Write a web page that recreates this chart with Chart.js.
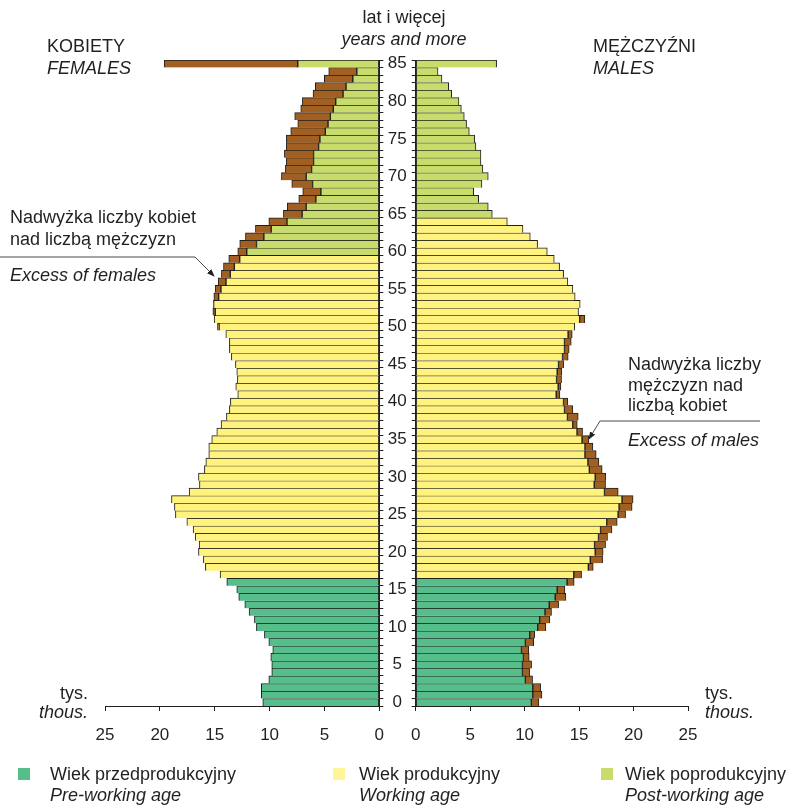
<!DOCTYPE html>
<html>
<head>
<meta charset="utf-8">
<script src="https://cdn.jsdelivr.net/npm/chart.js@4.4.1/dist/chart.umd.min.js"></script>
<style>
  body { margin: 0; background: #fff; }
  #wrap { position: relative; width: 795px; height: 807px; overflow: hidden;
          font-family: "Liberation Sans", Arial, sans-serif; color: #231f20; }
  canvas { position: absolute; top: 0; }
  .t { position: absolute; font-size: 18px; line-height: 21px; white-space: nowrap; }
  .i { font-style: italic; }
  .box { position: absolute; width: 12px; height: 12px; top: 768px; }
  svg { position: absolute; left: 0; top: 0; }
</style>
</head>
<body>
<div id="wrap">
  <canvas id="femaleChart" width="416" height="746" style="left:0;width:416px;height:746px"></canvas>
  <canvas id="maleChart" width="417" height="746" style="left:378px;width:417px;height:746px"></canvas>

  <svg width="795" height="807">
    <defs>
      <marker id="arr" markerWidth="8" markerHeight="8" refX="7" refY="4" orient="auto" markerUnits="userSpaceOnUse">
        <path d="M0,1 L8,4 L0,7 z" fill="#231f20"></path>
      </marker>
    </defs>
    <polyline points="0,257 195,257 214,276" fill="none" stroke="#4a4a4a" stroke-width="1" marker-end="url(#arr)"></polyline>
    <polyline points="760,421 600,421 589,439" fill="none" stroke="#4a4a4a" stroke-width="1" marker-end="url(#arr)"></polyline>
  </svg>

  <div class="t" style="left:304px;width:200px;text-align:center;top:7px">lat i więcej</div>
  <div class="t i" style="left:304px;width:200px;text-align:center;top:29px">years and more</div>
  <div class="t" style="left:47px;top:36px">KOBIETY</div>
  <div class="t i" style="left:47px;top:58px">FEMALES</div>
  <div class="t" style="left:593px;top:36px">MĘŻCZYŹNI</div>
  <div class="t i" style="left:593px;top:58px">MALES</div>

  <div class="t" style="left:10px;top:207px">Nadwyżka liczby kobiet</div>
  <div class="t" style="left:10px;top:229px">nad liczbą mężczyzn</div>
  <div class="t i" style="left:10px;top:265px">Excess of females</div>

  <div class="t" style="left:628px;top:354px">Nadwyżka liczby</div>
  <div class="t" style="left:628px;top:375px">mężczyzn nad</div>
  <div class="t" style="left:628px;top:395px">liczbą kobiet</div>
  <div class="t i" style="left:628px;top:430px">Excess of males</div>

  <div class="t" style="left:0;width:88px;text-align:right;top:683px">tys.</div>
  <div class="t i" style="left:0;width:88px;text-align:right;top:702px">thous.</div>
  <div class="t" style="left:705px;top:683px">tys.</div>
  <div class="t i" style="left:705px;top:702px">thous.</div>

  <div class="box" style="left:18px;background:#55be8b"></div>
  <div class="t" style="left:50px;top:764px">Wiek przedprodukcyjny</div>
  <div class="t i" style="left:50px;top:785px">Pre-working age</div>
  <div class="box" style="left:333px;background:#fff59a"></div>
  <div class="t" style="left:359px;top:764px">Wiek produkcyjny</div>
  <div class="t i" style="left:359px;top:785px">Working age</div>
  <div class="box" style="left:601px;background:#c8dc6c"></div>
  <div class="t" style="left:625px;top:764px">Wiek poprodukcyjny</div>
  <div class="t i" style="left:625px;top:785px">Post-working age</div>
</div>

<script>
// age 0 .. 85 (85 = 85 years and more), thousands
const ages = Array.from({ length: 86 }, (_, i) => String(i));

const females = [
  10.62, 10.75, 10.75, 10.07, 9.80, 9.80, 9.89, 9.71, 10.07, 10.47,
  11.20, 11.38, 11.87, 12.26, 12.81, 12.99, 13.90, 14.51, 15.85, 16.03,
  16.48, 16.42, 16.78, 16.97, 17.54, 18.58, 18.67, 18.94, 17.33, 16.39,
  16.48, 15.94, 15.81, 15.54, 15.54, 15.27, 14.81, 14.42, 13.93, 13.66,
  13.57, 12.90, 13.08, 12.93, 12.99, 13.11, 13.48, 13.66, 13.66, 13.99,
  14.75, 15.05, 15.17, 15.12, 15.08, 14.96, 14.69, 14.39, 14.20, 13.72,
  12.90, 12.72, 12.20, 11.29, 10.07, 8.74, 8.38, 7.34, 6.98, 7.98,
  8.92, 8.56, 8.47, 8.65, 8.47, 8.47, 8.07, 7.43, 7.71, 7.16,
  7.01, 6.04, 5.83, 5.01, 4.61, 19.61
];

const males = [
  11.31, 11.59, 11.47, 10.73, 10.46, 10.64, 10.42, 10.39, 10.83, 10.92,
  11.95, 12.32, 12.47, 13.12, 13.79, 13.70, 14.55, 15.23, 16.30, 17.16,
  17.21, 17.43, 17.61, 18.02, 18.50, 19.27, 19.87, 19.96, 18.59, 17.43,
  17.46, 17.12, 16.82, 16.57, 16.27, 15.90, 15.32, 14.83, 14.92, 14.43,
  13.97, 13.24, 13.33, 13.39, 13.42, 13.58, 14.00, 14.09, 14.28, 14.37,
  14.60, 15.53, 14.95, 15.10, 14.64, 14.43, 13.97, 13.58, 13.21, 12.72,
  12.08, 11.19, 10.52, 9.85, 8.41, 7.03, 6.66, 5.78, 5.32, 6.08,
  6.66, 6.17, 5.99, 5.99, 5.53, 5.41, 4.92, 4.67, 4.46, 4.19,
  3.97, 3.30, 3.03, 2.41, 2.05, 7.43
];

const xTicks = [0, 5, 10, 15, 20, 25];

// last age of pre-working group, first age of post-working group
const preWorkingEnd = 16;
const femalePostStart = 60;
const malePostStart = 65;

const colors = {
  pre: '#55be8b',
  work: '#fff27d',
  post: '#c8dc6c',
  excess: '#a15f22',
  line: '#231f20'
};

function buildDatasets(own, other, postStart) {
  const common = ages.map((a, i) => Math.min(own[i], other[i]));
  const part = (test) => common.map((v, i) => (test(i) ? v : null));
  const bar = {
    borderColor: '#1e1e1e',
    borderWidth: { top: 1, bottom: 0, left: 1, right: 1 },
    borderSkipped: false,
    barPercentage: 1,
    categoryPercentage: 1
  };
  return [
    { ...bar, label: 'pre', data: part(i => i <= preWorkingEnd), backgroundColor: colors.pre },
    { ...bar, label: 'work', data: part(i => i > preWorkingEnd && i < postStart), backgroundColor: colors.work },
    { ...bar, label: 'post', data: part(i => i >= postStart), backgroundColor: colors.post },
    { ...bar, label: 'excess', data: own.map((v, i) => (v > other[i] ? v - other[i] : null)), backgroundColor: colors.excess }
  ];
}

function xScale(reverse) {
  return {
    type: 'linear',
    reverse: reverse,
    min: 0,
    max: 25,
    stacked: true,
    position: 'bottom',
    afterBuildTicks: (s) => { s.ticks = xTicks.map(v => ({ value: v })); },
    ticks: { color: colors.line, font: { size: 17 }, padding: 14 },
    grid: { drawOnChartArea: false, tickLength: 5, color: colors.line },
    border: { color: colors.line },
    afterFit: (s) => { s.height = 40; }
  };
}

Chart.defaults.font.family = '"Liberation Sans", Arial, sans-serif';

const femaleChart = new Chart(document.getElementById('femaleChart'), {
  type: 'bar',
  data: { labels: ages, datasets: buildDatasets(females, males, femalePostStart) },
  options: {
    indexAxis: 'y',
    responsive: false,
    animation: false,
    layout: { padding: { left: 105, top: 60, right: 0, bottom: 0 } },
    plugins: { legend: { display: false }, tooltip: { enabled: false } },
    scales: {
      x: xScale(true),
      y: {
        stacked: true,
        reverse: true,
        position: 'right',
        ticks: { display: false, autoSkip: false },
        grid: { drawOnChartArea: false, tickLength: 4, offset: true, color: colors.line },
        border: { color: colors.line },
        afterFit: (s) => { s.width = 36.7; }
      }
    }
  }
});

const maleChart = new Chart(document.getElementById('maleChart'), {
  type: 'bar',
  data: { labels: ages, datasets: buildDatasets(males, females, malePostStart) },
  options: {
    indexAxis: 'y',
    responsive: false,
    animation: false,
    layout: { padding: { left: 0, top: 60, right: 107, bottom: 0 } },
    plugins: { legend: { display: false }, tooltip: { enabled: false } },
    scales: {
      x: xScale(false),
      y: {
        stacked: true,
        reverse: true,
        position: 'left',
        ticks: {
          autoSkip: false,
          crossAlign: 'center',
          padding: 5,
          color: colors.line,
          font: { size: 17 },
          callback: function (value) {
            const lab = this.getLabelForValue(value);
            return Number(lab) % 5 === 0 ? lab : '';
          }
        },
        grid: { drawOnChartArea: false, tickLength: 4, offset: true, color: colors.line },
        border: { color: colors.line },
        afterFit: (s) => { s.width = 37.7; }
      }
    }
  }
});
</script>
</body>
</html>
